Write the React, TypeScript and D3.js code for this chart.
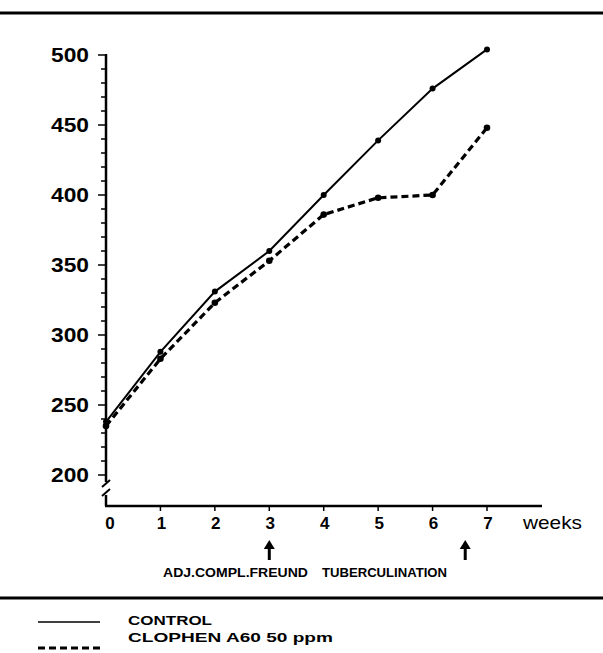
import React from "react";
import * as d3 from "d3";

const weeks = [0, 1, 2, 3, 4, 5, 6, 7];
const control = [238, 288, 331, 360, 400, 439, 476, 504];
const clophen = [235, 283, 323, 353, 386, 398, 400, 448];
const yMajor = [200, 250, 300, 350, 400, 450, 500];
const yMinor = d3.range(200, 501, 10);
const events = [
  { week: 3, label: "ADJ.COMPL.FREUND" },
  { week: 6.6, label: "TUBERCULINATION" },
];
const legend = [
  { label: "CONTROL", dashed: false },
  { label: "CLOPHEN A60  50 ppm", dashed: true },
];

export default function App() {
  const W = 603, H = 653;
  const x = d3.scaleLinear().domain([0, 7]).range([106, 487]);
  const y = d3.scaleLinear().domain([200, 500]).range([475, 55]);
  const line = d3
    .line<number>()
    .x((_, i) => x(weeks[i]))
    .y((d) => y(d));
  const axisX = 106;
  const axisY = 506;
  const bold = "'Liberation Sans', Arial, sans-serif";
  return (
    <svg
      width={W}
      height={H}
      style={{ position: "absolute", left: 0, top: 0, background: "#fff" }}
    >
      <rect width={W} height={H} fill="#fff" />
      {/* top rule */}
      <line x1={0} x2={W} y1={13} y2={13} stroke="#000" strokeWidth={3} />
      {/* y axis with break */}
      <line x1={axisX} x2={axisX} y1={y(500) - 1} y2={482} stroke="#000" strokeWidth={2.5} />
      <line x1={axisX} x2={axisX} y1={495} y2={axisY} stroke="#000" strokeWidth={2.5} />
      <line x1={102} x2={110} y1={487} y2={480} stroke="#000" strokeWidth={2} />
      <line x1={102} x2={110} y1={496} y2={489} stroke="#000" strokeWidth={2} />
      {/* y ticks */}
      {yMinor.map((v) => (
        <line
          key={"m" + v}
          x1={axisX - (v % 50 === 0 ? 8 : 5)}
          x2={axisX}
          y1={y(v)}
          y2={y(v)}
          stroke="#000"
          strokeWidth={1.5}
        />
      ))}
      {yMajor.map((v) => (
        <text
          key={"l" + v}
          x={89}
          y={y(v) + 7}
          textAnchor="end"
          fontFamily={bold}
          fontWeight="bold"
          fontSize={19.5}
          textLength={38}
          lengthAdjust="spacingAndGlyphs"
        >
          {v}
        </text>
      ))}
      {/* x axis */}
      <line x1={axisX - 1} x2={542} y1={axisY} y2={axisY} stroke="#000" strokeWidth={2.5} />
      {weeks.map((w) => (
        <g key={"x" + w}>
          {w > 0 && (
            <line x1={x(w)} x2={x(w)} y1={axisY} y2={axisY + 5} stroke="#000" strokeWidth={1.5} />
          )}
          <text
            x={x(w) + (w === 0 ? 4 : 1)}
            y={529}
            textAnchor="middle"
            fontFamily={bold}
            fontWeight="bold"
            fontSize={17}
          >
            {w}
          </text>
        </g>
      ))}
      <text x={523} y={529} fontFamily={bold} fontSize={19} textLength={59} lengthAdjust="spacingAndGlyphs">
        weeks
      </text>
      {/* series */}
      <path d={line(control) || ""} fill="none" stroke="#000" strokeWidth={2} />
      <path
        d={line(clophen) || ""}
        fill="none"
        stroke="#000"
        strokeWidth={3.2}
        strokeDasharray="7,4"
      />
      {control.map((v, i) => (
        <circle key={"c" + i} cx={x(weeks[i])} cy={y(v)} r={3} fill="#000" />
      ))}
      {clophen.map((v, i) => (
        <circle key={"d" + i} cx={x(weeks[i])} cy={y(v)} r={3.3} fill="#000" />
      ))}
      {/* event arrows */}
      {events.map((e) => (
        <g key={e.label}>
          <path
            d={`M${x(e.week)},540 L${x(e.week) - 5.5},549 L${x(e.week) + 5.5},549 Z`}
            fill="#000"
          />
          <line x1={x(e.week)} x2={x(e.week)} y1={548} y2={560} stroke="#000" strokeWidth={3} />
        </g>
      ))}
      <text x={163} y={577} fontFamily={bold} fontWeight="bold" fontSize={12} textLength={145} lengthAdjust="spacingAndGlyphs">
        {events[0].label}
      </text>
      <text x={322} y={577} fontFamily={bold} fontWeight="bold" fontSize={12} textLength={125} lengthAdjust="spacingAndGlyphs">
        {events[1].label}
      </text>
      {/* bottom rule */}
      <line x1={0} x2={W} y1={598} y2={598} stroke="#000" strokeWidth={3} />
      {/* legend */}
      {legend.map((l, i) => (
        <g key={l.label}>
          <line
            x1={38}
            x2={100}
            y1={i === 0 ? 622 : 648}
            y2={i === 0 ? 622 : 648}
            stroke="#000"
            strokeWidth={l.dashed ? 3 : 1.5}
            strokeDasharray={l.dashed ? "7,4" : undefined}
          />
          <text
            x={128}
            y={i === 0 ? 625 : 642}
            fontFamily={bold}
            fontWeight="bold"
            fontSize={13.5}
            textLength={i === 0 ? 84 : 205}
            lengthAdjust="spacingAndGlyphs"
          >
            {l.label}
          </text>
        </g>
      ))}
    </svg>
  );
}
